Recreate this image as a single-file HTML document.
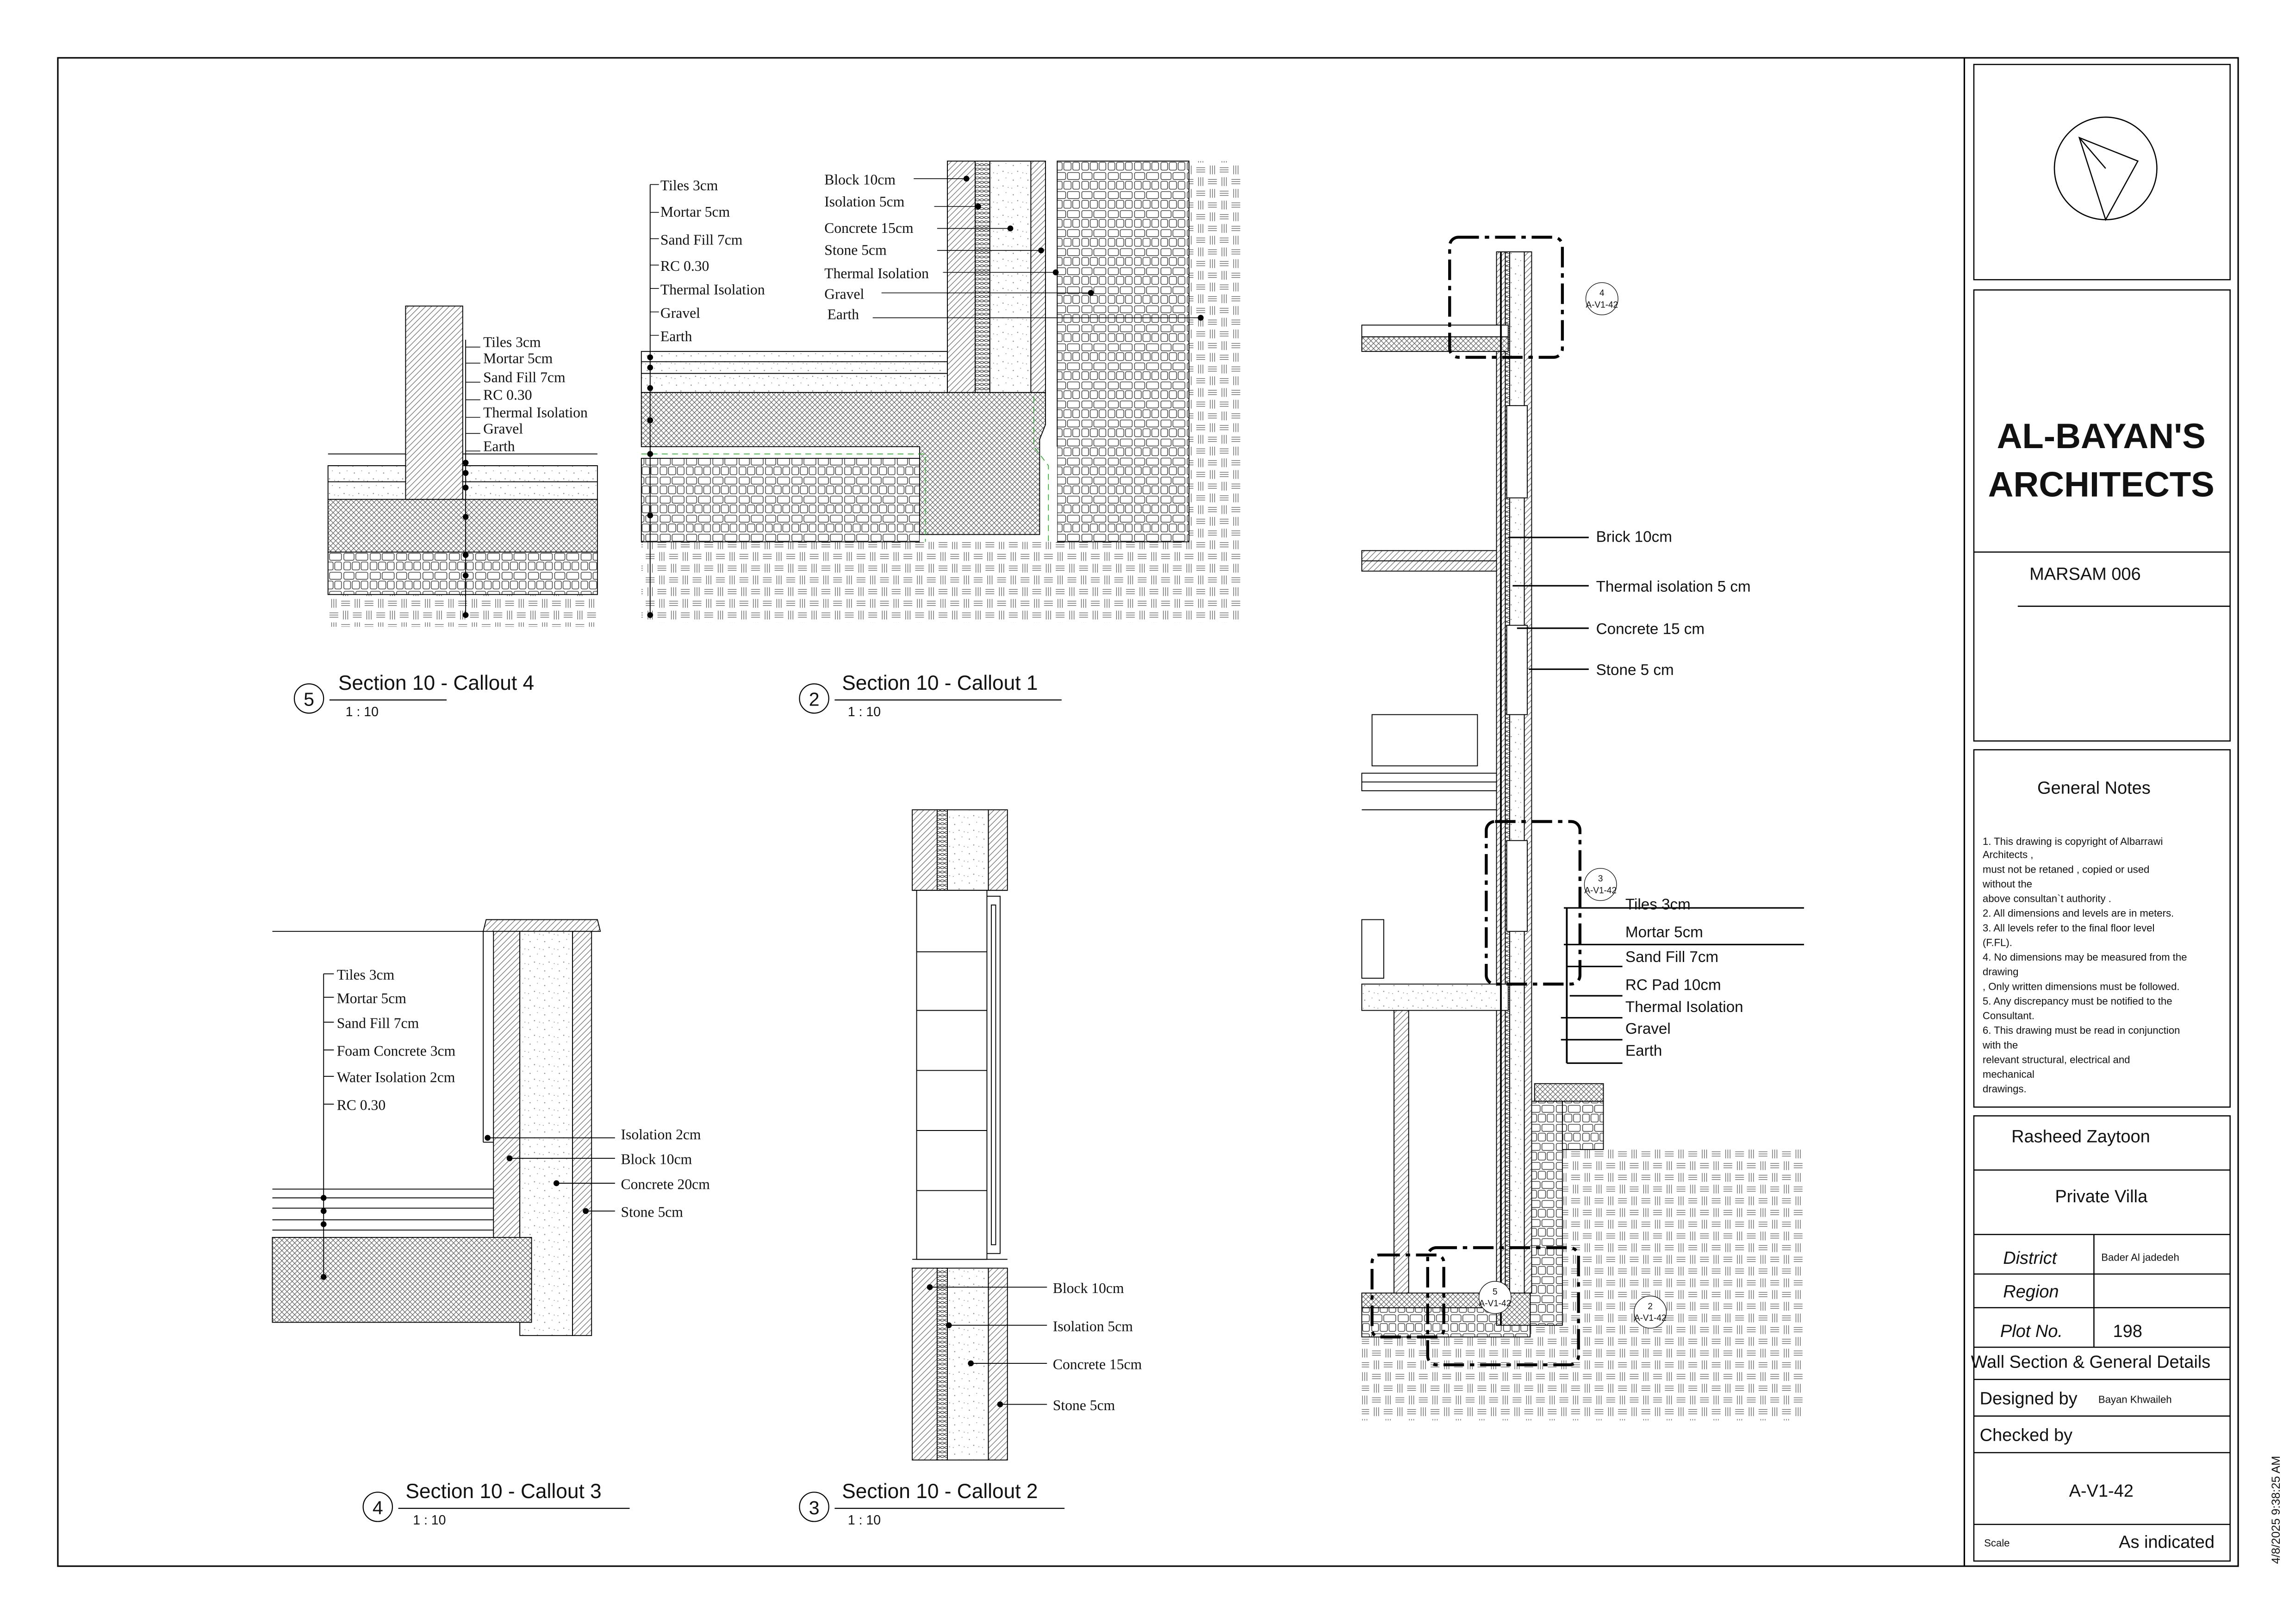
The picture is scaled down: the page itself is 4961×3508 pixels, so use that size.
<!DOCTYPE html>
<html><head><meta charset="utf-8"><style>
html,body{margin:0;padding:0;background:#fff}
svg{display:block}
.s{font-family:"Liberation Serif",serif;font-size:10px;fill:#111}
.a{font-family:"Liberation Sans",sans-serif;fill:#111}
</style></head><body>
<svg width="4961" height="3508" viewBox="0 0 1568 1109" preserveAspectRatio="none" xmlns="http://www.w3.org/2000/svg">
<defs>
<pattern id="earth" width="16" height="16" patternUnits="userSpaceOnUse">
<rect width="16" height="16" fill="#fff"/>
<g stroke="#555" stroke-width="0.4">
<path d="M1 2.5H7M1 4H7M1 5.5H7M9 10.5H15M9 12H15M9 13.5H15"/>
<path d="M10.5 1V7M12 1V7M13.5 1V7M2.5 9V15M4 9V15M5.5 9V15"/>
</g></pattern>
<pattern id="stone" width="18" height="13" patternUnits="userSpaceOnUse">
<rect width="18" height="13" fill="#fff"/>
<g fill="none" stroke="#333" stroke-width="0.45">
<rect x="0.8" y="0.8" width="7" height="4.8" rx="1"/><rect x="9" y="0.8" width="8.2" height="4.8" rx="1"/>
<rect x="0.8" y="6.8" width="4.6" height="5.4" rx="1"/><rect x="6.5" y="6.8" width="5" height="5.4" rx="1"/><rect x="12.6" y="6.8" width="4.6" height="5.4" rx="1"/>
</g></pattern>
<pattern id="xh" width="3.5" height="3.5" patternUnits="userSpaceOnUse">
<rect width="3.5" height="3.5" fill="#fff"/><path d="M0 0L3.5 3.5M3.5 0L0 3.5" stroke="#555" stroke-width="0.35"/></pattern>
<pattern id="dg" width="4" height="4" patternUnits="userSpaceOnUse">
<rect width="4" height="4" fill="#fff"/><path d="M0 4L4 0M-1 1L1 -1M3 5L5 3" stroke="#666" stroke-width="0.4"/></pattern>
<pattern id="sp" width="10" height="10" patternUnits="userSpaceOnUse">
<rect width="10" height="10" fill="#fff"/><g fill="#888"><circle cx="2" cy="3" r="0.4"/><circle cx="7" cy="1.5" r="0.3"/><circle cx="5" cy="7" r="0.4"/><circle cx="8.5" cy="8" r="0.3"/><circle cx="1" cy="8.5" r="0.3"/></g></pattern>
<pattern id="ins" width="3" height="3" patternUnits="userSpaceOnUse">
<rect width="3" height="3" fill="#fff"/><path d="M0 1.5Q1.5 0 3 1.5Q1.5 3 0 1.5" fill="none" stroke="#333" stroke-width="0.4"/></pattern>
</defs>
<rect width="1568" height="1109" fill="#fff"/>
<!-- frame -->
<rect x="39.5" y="39.5" width="1489" height="1030" fill="none" stroke="#000" stroke-width="1"/>
<line x1="1341.5" y1="39.5" x2="1341.5" y2="1069.5" stroke="#000"/>
<g fill="none" stroke="#000" stroke-width="0.8">
<rect x="1348" y="44" width="175" height="147"/>
<rect x="1348" y="198" width="175" height="308"/>
<rect x="1348" y="512" width="175" height="244"/>
<rect x="1348" y="762" width="175" height="304"/>
<line x1="1348" y1="377" x2="1523" y2="377"/><line x1="1378" y1="414" x2="1523" y2="414"/>
<line x1="1348" y1="799" x2="1523" y2="799"/><line x1="1348" y1="843" x2="1523" y2="843"/>
<line x1="1348" y1="870" x2="1523" y2="870"/><line x1="1348" y1="893" x2="1523" y2="893"/><line x1="1348" y1="920" x2="1523" y2="920"/>
<line x1="1348" y1="942" x2="1523" y2="942"/><line x1="1348" y1="967" x2="1523" y2="967"/><line x1="1348" y1="992" x2="1523" y2="992"/>
<line x1="1348" y1="1041" x2="1523" y2="1041"/>
<line x1="1430" y1="843" x2="1430" y2="920"/>
<circle cx="1438" cy="115" r="35"/>
<path d="M1420 94L1460 110L1438 150Z M1420 94L1438 115"/>
</g>
<text x="1435" y="306" text-anchor="middle" class="a" style="font-size:24px;font-weight:bold">AL-BAYAN'S</text>
<text x="1435" y="339" text-anchor="middle" class="a" style="font-size:24px;font-weight:bold">ARCHITECTS</text>
<text x="1424" y="396" text-anchor="middle" class="a" style="font-size:12px">MARSAM 006</text>
<text x="1430" y="542" text-anchor="middle" class="a" style="font-size:12px">General Notes</text>
<g class="a" style="font-size:7px">
<text x="1354" y="577">1. This drawing is copyright of Albarrawi</text>
<text x="1354" y="586">Architects ,</text>
<text x="1354" y="596"> must not be retaned , copied or used</text>
<text x="1354" y="606">without the</text>
<text x="1354" y="616"> above consultan`t authority .</text>
<text x="1354" y="626"> 2. All dimensions and levels are in meters.</text>
<text x="1354" y="636"> 3. All levels refer to the final floor level</text>
<text x="1354" y="646">(F.FL).</text>
<text x="1354" y="656"> 4. No dimensions may be measured from the</text>
<text x="1354" y="666">drawing</text>
<text x="1354" y="676"> , Only written dimensions must be followed.</text>
<text x="1354" y="686"> 5. Any discrepancy must be notified to the</text>
<text x="1354" y="696">Consultant.</text>
<text x="1354" y="706"> 6. This drawing must be read in conjunction</text>
<text x="1354" y="716">with the</text>
<text x="1354" y="726"> relevant structural, electrical and</text>
<text x="1354" y="736">mechanical</text>
<text x="1354" y="746"> drawings.</text>
</g>
<g class="a" style="font-size:12px">
<text x="1421" y="780" text-anchor="middle">Rasheed Zaytoon</text>
<text x="1435" y="821" text-anchor="middle">Private Villa</text>
<text x="1368" y="863" style="font-style:italic">District</text>
<text x="1368" y="886" style="font-style:italic">Region</text>
<text x="1366" y="913" style="font-style:italic">Plot No.</text>
<text x="1443" y="913">198</text>
<text x="1346" y="934">Wall Section &amp; General Details</text>
<text x="1352" y="959">Designed by</text>
<text x="1352" y="984">Checked by</text>
<text x="1435" y="1022" text-anchor="middle">A-V1-42</text>
<text x="1447" y="1057">As indicated</text>
</g>
<g class="a" style="font-size:7px"><text x="1435" y="861">Bader Al jadedeh</text><text x="1433" y="958">Bayan Khwaileh</text><text x="1355" y="1056">Scale</text></g>
<text transform="translate(1557,1068) rotate(-90)" class="a" style="font-size:8px">4/8/2025 9:38:25 AM</text>

<!-- ===== Section 5 (Callout 4) ===== -->
<g stroke="#000" stroke-width="0.6">
<rect x="224" y="377" width="184" height="51" fill="url(#earth)" stroke="none"/>
<rect x="224" y="377" width="184" height="29" fill="url(#stone)"/>
<rect x="224" y="341" width="184" height="36" fill="url(#xh)"/>
<rect x="224" y="318" width="184" height="23" fill="url(#sp)"/>
<line x1="224" y1="310" x2="408" y2="310"/><line x1="224" y1="318" x2="408" y2="318"/><line x1="224" y1="329" x2="408" y2="329"/>
<rect x="277" y="209" width="39" height="132" fill="url(#dg)"/>
<line x1="318" y1="232" x2="318" y2="420"/>
</g>
<g fill="#000"><circle cx="318" cy="316" r="2"/><circle cx="318" cy="323" r="2"/><circle cx="318" cy="333" r="2"/><circle cx="318" cy="353" r="2"/><circle cx="318" cy="379" r="2"/><circle cx="318" cy="393" r="2"/><circle cx="318" cy="420" r="2"/></g>
<g class="s"><text x="330" y="237">Tiles 3cm</text><text x="330" y="248">Mortar 5cm</text><text x="330" y="261">Sand Fill 7cm</text><text x="330" y="273">RC 0.30</text><text x="330" y="285">Thermal Isolation</text><text x="330" y="296">Gravel</text><text x="330" y="308">Earth</text></g>
<g stroke="#000" stroke-width="0.5"><path d="M318 237H328M318 248H328M318 261H328M318 273H328M318 285H328M318 296H328M318 308H328"/></g>

<!-- ===== Section 2 (Callout 1) ===== -->
<g stroke="#000" stroke-width="0.6">
<rect x="438" y="370" width="410" height="55" fill="url(#earth)" stroke="none"/>
<rect x="812" y="110" width="36" height="260" fill="url(#earth)" stroke="none"/>
<rect x="722" y="110" width="90" height="260" fill="url(#stone)"/>
<rect x="438" y="313" width="190" height="57" fill="url(#stone)"/>
<rect x="628" y="305" width="94" height="65" fill="#fff" stroke="none"/>
<path d="M438 268H714V290L710 300V365H628V305H438Z" fill="url(#xh)"/>
<path d="M438 310H632V370M706 110V305L716 318V370" fill="none" stroke="#2a2" stroke-dasharray="4,3" stroke-width="0.5"/>
<rect x="438" y="240" width="209" height="28" fill="url(#sp)"/>
<line x1="438" y1="247" x2="647" y2="247"/><line x1="438" y1="255" x2="647" y2="255"/>
<rect x="647" y="110" width="19" height="158" fill="url(#dg)"/>
<rect x="666" y="110" width="10" height="158" fill="url(#ins)"/>
<rect x="676" y="110" width="28" height="158" fill="url(#sp)"/>
<rect x="704" y="110" width="10" height="158" fill="url(#dg)"/>
<line x1="444" y1="126" x2="444" y2="420"/>
</g>
<g class="s"><text x="451" y="130">Tiles 3cm</text><text x="451" y="148">Mortar 5cm</text><text x="451" y="167">Sand Fill 7cm</text><text x="451" y="185">RC 0.30</text><text x="451" y="201">Thermal Isolation</text><text x="451" y="217">Gravel</text><text x="451" y="233">Earth</text>
<text x="563" y="126">Block 10cm</text><text x="563" y="141">Isolation 5cm</text><text x="563" y="159">Concrete 15cm</text><text x="563" y="174">Stone 5cm</text><text x="563" y="190">Thermal Isolation</text><text x="563" y="204">Gravel</text><text x="565" y="218">Earth</text></g>
<g stroke="#000" stroke-width="0.5" fill="none"><path d="M444 126H450M444 145H450M444 163H450M444 181H450M444 197H450M444 213H450M444 229H450"/>
<path d="M624 122H660M638 141H668M640 156H690M640 171H711M644 186H721M602 200H745M596 217H820"/></g>
<g fill="#000"><circle cx="660" cy="122" r="2"/><circle cx="668" cy="141" r="2"/><circle cx="690" cy="156" r="2"/><circle cx="711" cy="171" r="2"/><circle cx="721" cy="186" r="2"/><circle cx="745" cy="200" r="2"/><circle cx="820" cy="217" r="2"/>
<circle cx="444" cy="244" r="2"/><circle cx="444" cy="251" r="2"/><circle cx="444" cy="265" r="2"/><circle cx="444" cy="287" r="2"/><circle cx="444" cy="310" r="2"/><circle cx="444" cy="352" r="2"/><circle cx="444" cy="420" r="2"/></g>

<!-- titles -->
<g fill="none" stroke="#000" stroke-width="0.7">
<circle cx="211" cy="477" r="10"/><line x1="225" y1="478" x2="305" y2="478"/>
<circle cx="556" cy="477" r="10"/><line x1="570" y1="478" x2="725" y2="478"/>
<circle cx="258" cy="1029" r="10"/><line x1="272" y1="1030" x2="430" y2="1030"/>
<circle cx="556" cy="1029" r="10"/><line x1="570" y1="1030" x2="727" y2="1030"/>
</g>
<g class="a"><text x="211" y="482" text-anchor="middle" style="font-size:13px">5</text><text x="556" y="482" text-anchor="middle" style="font-size:13px">2</text><text x="258" y="1034" text-anchor="middle" style="font-size:13px">4</text><text x="556" y="1034" text-anchor="middle" style="font-size:13px">3</text>
<text x="231" y="471" style="font-size:14px">Section 10 - Callout 4</text><text x="236" y="489" style="font-size:9px">1 : 10</text>
<text x="575" y="471" style="font-size:14px">Section 10 - Callout 1</text><text x="579" y="489" style="font-size:9px">1 : 10</text>
<text x="277" y="1023" style="font-size:14px">Section 10 - Callout 3</text><text x="282" y="1041" style="font-size:9px">1 : 10</text>
<text x="575" y="1023" style="font-size:14px">Section 10 - Callout 2</text><text x="579" y="1041" style="font-size:9px">1 : 10</text></g>

<!-- ===== Section 4 (Callout 3) ===== -->
<g stroke="#000" stroke-width="0.6">
<line x1="186" y1="636" x2="330" y2="636"/>
<path d="M330 636L332 628H408L410 636Z" fill="url(#dg)"/>
<rect x="337" y="636" width="18" height="210" fill="url(#dg)"/>
<rect x="355" y="636" width="36" height="276" fill="url(#sp)"/>
<rect x="391" y="636" width="13" height="276" fill="url(#dg)"/>
<line x1="330" y1="636" x2="330" y2="780"/><line x1="330" y1="780" x2="337" y2="780"/>
<rect x="186" y="845" width="177" height="58" fill="url(#xh)"/>
<path d="M186 812H337M186 818H337M186 825H337M186 833H337M186 840H337" fill="none"/>
<line x1="221" y1="665" x2="221" y2="872"/>
<path d="M221 665H228M221 681H228M221 698H228M221 717H228M221 735H228M221 754H228" fill="none"/>
<path d="M333 777H420M348 791H420M380 808H420M400 827H420" fill="none"/>
</g>
<g fill="#000"><circle cx="221" cy="818" r="2"/><circle cx="221" cy="827" r="2"/><circle cx="221" cy="836" r="2"/><circle cx="221" cy="872" r="2"/><circle cx="333" cy="777" r="2"/><circle cx="348" cy="791" r="2"/><circle cx="380" cy="808" r="2"/><circle cx="400" cy="827" r="2"/></g>
<g class="s"><text x="230" y="669">Tiles 3cm</text><text x="230" y="685">Mortar 5cm</text><text x="230" y="702">Sand Fill 7cm</text><text x="230" y="721">Foam Concrete 3cm</text><text x="230" y="739">Water Isolation 2cm</text><text x="230" y="758">RC 0.30</text>
<text x="424" y="778">Isolation 2cm</text><text x="424" y="795">Block  10cm</text><text x="424" y="812">Concrete 20cm</text><text x="424" y="831">Stone 5cm</text></g>

<!-- ===== Section 3 (Callout 2) ===== -->
<g stroke="#000" stroke-width="0.6">
<rect x="623" y="553" width="17" height="55" fill="url(#dg)"/>
<rect x="640" y="553" width="7" height="55" fill="url(#ins)"/>
<rect x="647" y="553" width="28" height="55" fill="url(#sp)"/>
<rect x="675" y="553" width="13" height="55" fill="url(#dg)"/>
<line x1="623" y1="608" x2="688" y2="608"/>
<rect x="626" y="608" width="48" height="252" fill="#fff"/>
<path d="M626 650H674M626 690H674M626 731H674M626 772H674M626 813H674" fill="none"/>
<rect x="674" y="612" width="9" height="244" fill="#fff"/><rect x="677" y="618" width="3" height="232" fill="#fff"/>
<line x1="623" y1="860" x2="688" y2="860"/>
<rect x="623" y="866" width="17" height="131" fill="url(#dg)"/>
<rect x="640" y="866" width="7" height="131" fill="url(#ins)"/>
<rect x="647" y="866" width="28" height="131" fill="url(#sp)"/>
<rect x="675" y="866" width="13" height="131" fill="url(#dg)"/>
<path d="M635 879H715M648 905H715M663 931H715M683 959H715" fill="none"/>
</g>
<g fill="#000"><circle cx="635" cy="879" r="2"/><circle cx="648" cy="905" r="2"/><circle cx="663" cy="931" r="2"/><circle cx="683" cy="959" r="2"/></g>
<g class="s"><text x="719" y="883">Block 10cm</text><text x="719" y="909">Isolation 5cm</text><text x="719" y="935">Concrete 15cm</text><text x="719" y="963">Stone 5cm</text></g>

<!-- ===== Main wall section ===== -->
<g stroke="#000" stroke-width="0.6">
<rect x="1067" y="785" width="165" height="185" fill="url(#earth)" stroke="none"/>
<rect x="930" y="905" width="137" height="65" fill="url(#earth)" stroke="none"/>
<rect x="1045" y="752" width="22" height="153" fill="url(#stone)"/>
<rect x="1067" y="752" width="28" height="33" fill="url(#stone)"/>
<rect x="930" y="893" width="115" height="20" fill="url(#stone)"/>
<rect x="930" y="883" width="115" height="10" fill="url(#xh)"/>
<rect x="1022" y="883" width="23" height="22" fill="url(#xh)"/>
<rect x="952" y="688" width="10" height="195" fill="url(#dg)"/>
<rect x="1022" y="172" width="6" height="711" fill="url(#dg)"/>
<rect x="1028" y="172" width="3" height="711" fill="url(#ins)"/>
<rect x="1031" y="172" width="10" height="711" fill="url(#sp)"/>
<rect x="1041" y="172" width="5" height="711" fill="url(#dg)"/>
<rect x="930" y="222" width="100" height="8" fill="#fff"/><rect x="930" y="230" width="100" height="10" fill="url(#xh)"/>
<rect x="930" y="376" width="92" height="14" fill="url(#dg)"/><line x1="930" y1="383" x2="1022" y2="383"/>
<rect x="930" y="528" width="92" height="12" fill="#fff"/><line x1="930" y1="534" x2="1022" y2="534"/><line x1="930" y1="553" x2="1022" y2="553"/>
<rect x="930" y="672" width="100" height="18" fill="url(#sp)"/>
<rect x="1048" y="740" width="47" height="12" fill="url(#xh)"/>
<rect x="1029" y="277" width="14" height="63" fill="#fff"/>
<rect x="1029" y="427" width="14" height="61" fill="#fff"/>
<rect x="1029" y="574" width="14" height="62" fill="#fff"/>
<rect x="937" y="488" width="72" height="35" fill="#fff"/>
<rect x="930" y="628" width="15" height="40" fill="#fff"/>
<line x1="1025" y1="172" x2="1025" y2="905" stroke-width="1.2"/>
<path d="M1030 367H1085M1033 400H1085M1036 429H1085M1044 457H1085" fill="none" stroke-width="1"/>
<path d="M1068 620H1232M1068 645H1232M1070 660H1108M1072 680H1108M1066 695H1108M1066 710H1108M1070 726H1108" fill="none" stroke-width="1"/>
<line x1="1070" y1="620" x2="1070" y2="726" stroke-width="1.2"/>
</g>
<g fill="none" stroke="#000" stroke-width="2" stroke-dasharray="14,4,3,4">
<rect x="990" y="162" width="77" height="82" rx="6"/>
<rect x="1015" y="561" width="64" height="111" rx="6"/>
<rect x="937" y="857" width="49" height="56" rx="5"/>
<rect x="975" y="852" width="103" height="80" rx="6"/>
</g>
<g fill="#fff" stroke="#000" stroke-width="0.4"><circle cx="1094" cy="204" r="11"/><circle cx="1093" cy="604" r="11"/><circle cx="1127" cy="896" r="11"/><circle cx="1021" cy="886" r="11"/></g>
<g class="a" style="font-size:6px" text-anchor="middle"><text x="1094" y="202">4</text><text x="1094" y="210">A-V1-42</text><text x="1093" y="602">3</text><text x="1093" y="610">A-V1-42</text><text x="1127" y="894">2</text><text x="1127" y="902">A-V1-42</text><text x="1021" y="884">5</text><text x="1021" y="892">A-V1-42</text></g>
<g class="a" style="font-size:10.5px"><text x="1090" y="370">Brick 10cm</text><text x="1090" y="404">Thermal isolation 5 cm</text><text x="1090" y="433">Concrete 15 cm</text><text x="1090" y="461">Stone 5 cm</text>
<text x="1110" y="621">Tiles 3cm</text><text x="1110" y="640">Mortar 5cm</text><text x="1110" y="657">Sand Fill 7cm</text><text x="1110" y="676">RC Pad 10cm</text><text x="1110" y="691">Thermal Isolation</text><text x="1110" y="706">Gravel</text><text x="1110" y="721">Earth</text></g>
</svg>
</body></html>
